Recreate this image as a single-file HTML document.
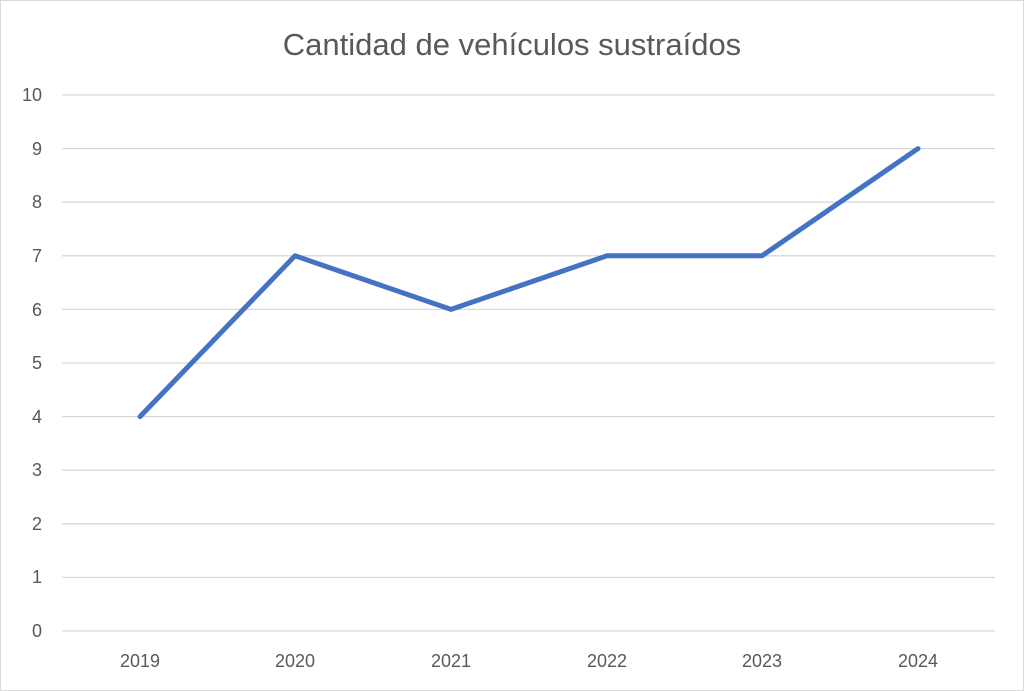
<!DOCTYPE html>
<html><head><meta charset="utf-8"><style>
html,body{margin:0;padding:0;background:#fff;}
svg{display:block;}
text{font-family:"Liberation Sans",sans-serif;fill:#595959;}
</style></head><body>
<svg width="1024" height="691" viewBox="0 0 1024 691">
<rect x="0.5" y="0.5" width="1023" height="690" fill="#fff" stroke="#d9d9d9"/>
<text x="512" y="55" font-size="31" text-anchor="middle">Cantidad de vehículos sustraídos</text>
<g stroke="#d9d9d9" stroke-width="1.3">
<line x1="62" x2="995" y1="95" y2="95"/>
<line x1="62" x2="995" y1="148.6" y2="148.6"/>
<line x1="62" x2="995" y1="202.2" y2="202.2"/>
<line x1="62" x2="995" y1="255.8" y2="255.8"/>
<line x1="62" x2="995" y1="309.4" y2="309.4"/>
<line x1="62" x2="995" y1="363" y2="363"/>
<line x1="62" x2="995" y1="416.6" y2="416.6"/>
<line x1="62" x2="995" y1="470.2" y2="470.2"/>
<line x1="62" x2="995" y1="523.8" y2="523.8"/>
<line x1="62" x2="995" y1="577.4" y2="577.4"/>
<line x1="62" x2="995" y1="631" y2="631"/>
</g>
<g font-size="18" text-anchor="end">
<text x="42" y="101">10</text>
<text x="42" y="155">9</text>
<text x="42" y="208">8</text>
<text x="42" y="262">7</text>
<text x="42" y="316">6</text>
<text x="42" y="369">5</text>
<text x="42" y="423">4</text>
<text x="42" y="476">3</text>
<text x="42" y="530">2</text>
<text x="42" y="583">1</text>
<text x="42" y="637">0</text>
</g>
<g font-size="18" text-anchor="middle">
<text x="140" y="667">2019</text>
<text x="295" y="667">2020</text>
<text x="451" y="667">2021</text>
<text x="607" y="667">2022</text>
<text x="762" y="667">2023</text>
<text x="918" y="667">2024</text>
</g>
<polyline fill="none" stroke="#4472c4" stroke-width="5" stroke-linejoin="round" stroke-linecap="round"
points="140,416.6 295,255.8 451,309.4 607,255.8 762,255.8 918,148.6"/>
</svg>
</body></html>
